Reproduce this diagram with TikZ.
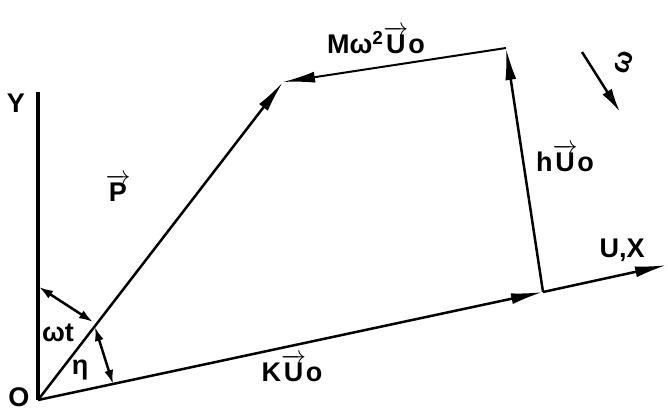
\documentclass[tikz,border=0pt]{standalone}
\usepackage{amsmath}
\usepackage{fontspec}
\setmainfont{Liberation Sans}
\usetikzlibrary{arrows.meta}
\newcommand{\vecU}{$\overrightarrow{\text{U}}$}
\begin{document}
\begin{tikzpicture}[x=1pt,y=-1pt,
    vec/.style={line width=2.5pt,-{Latex[length=32pt,width=11pt]}},
    ang/.style={line width=2.5pt,{Latex[length=14pt,width=9pt]}-{Latex[length=14pt,width=9pt]}},
    lbl/.style={font=\fontsize{27}{29}\selectfont\bfseries}]%
  \useasboundingbox (0,0) rectangle (668,413);%
  \coordinate (O) at (38,400);%
  \coordinate (Y) at (38,92);%
  \coordinate (K) at (543,292);%
  \coordinate (H) at (506,48);%
  \coordinate (P) at (283,82);%
  \coordinate (X) at (667,265);%
  \coordinate (wt1) at (39,287);%
  \coordinate (wt2) at (93,322);%
  \coordinate (eta1) at (95,327);%
  \coordinate (eta2) at (113,384);%
  \coordinate (w1) at (582,52);%
  \coordinate (w2) at (620,112);%
  \draw [line width=3.5pt] (O) to (Y);%
  \draw [vec] (O) to (K);%
  \draw [vec] (K) to (X);%
  \draw [vec] (K) to (H);%
  \draw [vec,line width=2pt] (H) to (P);%
  \draw [vec] (O) to (P);%
  \draw [ang] (wt1) to (wt2);%
  \draw [ang] (eta1) to (eta2);%
  \draw [vec,-{Latex[length=24pt,width=11pt]}] (w1) to (w2);%
  \node [lbl] (lY) at (16,103) {Y};%
  \node [lbl] (lO) at (19,397) {O};%
  \node [lbl] (lP) at (118,188) {$\overrightarrow{\text{P}}$};%
  \node [lbl] (lwt) at (58,333) {ωt};%
  \node [lbl] (leta) at (80,370) {η};%
  \node [lbl] (lK) at (292,368) {K\vecU o};%
  \node [lbl] (lh) at (565,158) {h\vecU o};%
  \node [lbl] (lM) at (376,40) {Mω\textsuperscript{2}\vecU o};%
  \node [lbl] (lX) at (622,250) {U,X};%
  \node [lbl,rotate=70] (lw) at (624,62) {ω};%
\end{tikzpicture}
\end{document}
